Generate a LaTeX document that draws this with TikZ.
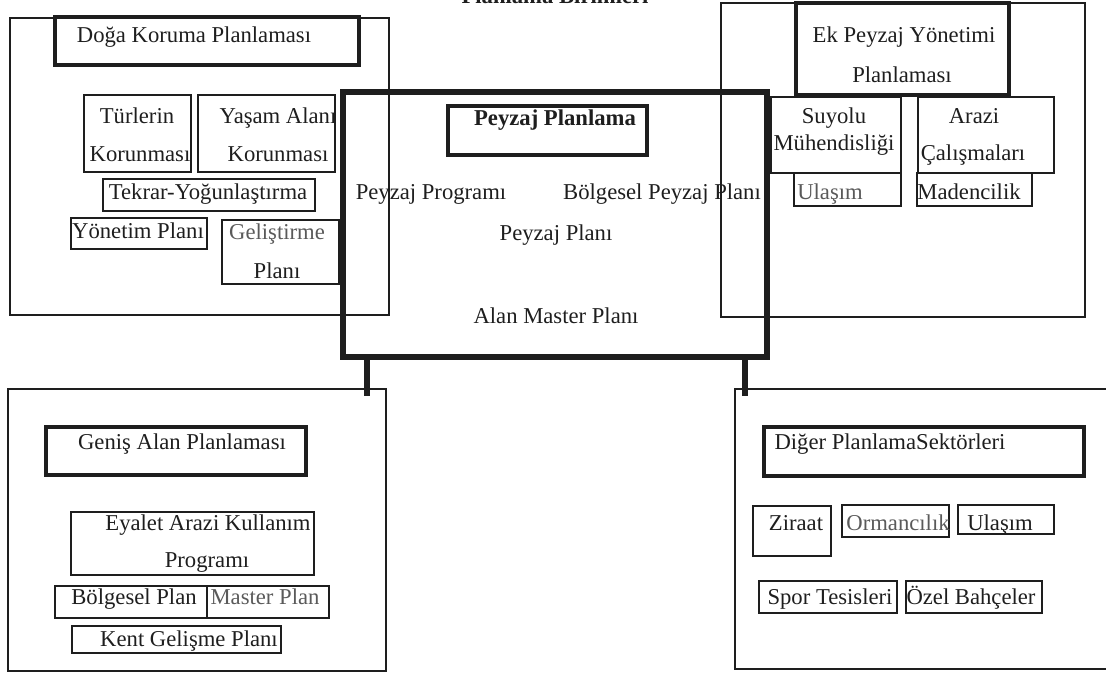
\documentclass[tikz,border=0pt]{standalone}
\usepackage{fontspec}
\setmainfont{Liberation Serif}
\usetikzlibrary{fit}
\definecolor{ink}{RGB}{30,30,30}
\definecolor{faded}{RGB}{90,90,90}
\begin{document}
\begin{tikzpicture}[x=0.75pt,y=-0.75pt,
  thinbox/.style={draw=ink, line width=0.9pt, inner sep=0pt},
  subbox/.style={draw=ink, line width=1.4pt, inner sep=0pt},
  titlebox/.style={draw=ink, line width=3pt, inner sep=0pt},
  heavybox/.style={draw=ink, line width=4.5pt, inner sep=0pt},
  stub/.style={draw=ink, line width=4.5pt},
  lbl/.style={font=\fontsize{17}{20}\selectfont, inner sep=0pt, anchor=base, text=ink},
  blbl/.style={lbl, font=\fontsize{17}{20}\selectfont\bfseries},
  flbl/.style={lbl, text=faded}]
\useasboundingbox (0,0) rectangle (1106,672);
\clip (0,0) rectangle (1106,672);

% top title (cut off at the top edge)
\node[blbl] (title) at (555,3) {Planlama Birimleri};

% ---------- Doga Koruma Planlamasi ----------
\node[thinbox, fit={(10,18) (389,315)}] (dk) {};
\node[titlebox, fit={(55,17) (359,65)}] (dkT) {};
\node[subbox, fit={(84,95) (191,172)}] (tur) {};
\node[subbox, fit={(198,95) (335,172)}] (yas) {};
\node[subbox, fit={(103,179) (315,211)}] (tek) {};
\node[subbox, fit={(71,218) (207,249)}] (yon) {};
\node[subbox, fit={(222,220) (339,284)}] (gel) {};
\node[lbl] (tDK) at (194,42) {Doğa Koruma Planlaması};
\node[lbl] (tTur1) at (137,123) {Türlerin};
\node[lbl] (tTur2) at (140,161) {Korunması};
\node[lbl] (tYas1) at (278,123) {Yaşam Alanı};
\node[lbl] (tYas2) at (278,161) {Korunması};
\node[lbl] (tTek) at (208,199) {Tekrar-Yoğunlaştırma};
\node[lbl] (tYon) at (138,238) {Yönetim Planı};
\node[flbl] (tGel1) at (277,239) {Geliştirme};
\node[lbl] (tGel2) at (277,278) {Planı};

% ---------- Ek Peyzaj Yonetimi Planlamasi ----------
\node[thinbox, fit={(721,3) (1085,317)}] (ek) {};
\node[titlebox, fit={(796,3) (1009,95)}] (ekT) {};
\node[subbox, fit={(771,97) (901,173)}] (suy) {};
\node[subbox, fit={(918,97) (1054,173)}] (arz) {};
\node[subbox, fit={(794,173) (901,206)}] (ula) {};
\node[subbox, fit={(917,173) (1032,206)}] (mad) {};
\node[lbl] (tEk1) at (904,42) {Ek Peyzaj Yönetimi};
\node[lbl] (tEk2) at (902,82) {Planlaması};
\node[lbl] (tSuy1) at (834,123) {Suyolu};
\node[lbl] (tSuy2) at (834,150) {Mühendisliği};
\node[lbl] (tArz1) at (974,123) {Arazi};
\node[lbl] (tArz2) at (973,160) {Çalışmaları};
\node[flbl] (tUla) at (830,199) {Ulaşım};
\node[lbl] (tMad) at (969,199) {Madencilik};

% ---------- Peyzaj Planlama (centre) ----------
\node[heavybox, fit={(343,92) (767,357)}] (cbox) {};
\node[titlebox, fit={(448,106) (647,155)}] (ppl) {};
\node[blbl] (tPpl) at (555,125) {Peyzaj Planlama};
\node[lbl] (tProg) at (431,199) {Peyzaj Programı};
\node[lbl] (tBpp) at (662,199) {Bölgesel Peyzaj Planı};
\node[lbl] (tPp) at (556,240) {Peyzaj Planı};
\node[lbl] (tAmp) at (556,323) {Alan Master Planı};

% ---------- Genis Alan Planlamasi ----------
\node[thinbox, fit={(8,389) (386,671)}] (gn) {};
\node[titlebox, fit={(46,427) (306,475)}] (gnT) {};
\node[subbox, fit={(71,512) (314,575)}] (eya) {};
\node[subbox, fit={(55,586) (207,618)}] (bol) {};
\node[subbox, fit={(207,586) (329,618)}] (mas) {};
\node[subbox, fit={(72,626) (281,653)}] (ken) {};
\node[lbl] (tGn) at (182,449) {Geniş Alan Planlaması};
\node[lbl] (tEya1) at (208,530) {Eyalet Arazi Kullanım};
\node[lbl] (tEya2) at (207,567) {Programı};
\node[lbl] (tBol) at (134,604) {Bölgesel Plan};
\node[flbl] (tMas) at (265,604) {Master Plan};
\node[lbl] (tKen) at (189,646) {Kent Gelişme Planı};

% ---------- Diger Planlama Sektorleri ----------
\node[thinbox, fit={(735,389) (1112,669)}] (dg) {};
\node[titlebox, fit={(764,427) (1084,476)}] (dgT) {};
\node[subbox, fit={(753,506) (831,556)}] (zir) {};
\node[subbox, fit={(842,505) (949,537)}] (orm) {};
\node[subbox, fit={(958,505) (1054,534)}] (ulb) {};
\node[subbox, fit={(759,581) (897,613)}] (spo) {};
\node[subbox, fit={(906,581) (1042,613)}] (oze) {};
\node[lbl] (tDg) at (890,449) {Diğer PlanlamaSektörleri};
\node[lbl] (tZir) at (796,530) {Ziraat};
\node[flbl] (tOrm) at (898,530) {Ormancılık};
\node[lbl] (tUlb) at (1000,530) {Ulaşım};
\node[lbl] (tSpo) at (830,604) {Spor Tesisleri};
\node[lbl] (tOze) at (971,604) {Özel Bahçeler};

% ---------- connectors ----------
\coordinate (sL) at (367,0);
\coordinate (sR) at (745,0);
\draw[stub] (cbox.south -| sL) -- (gn.north -| sL) -- ++(0,8);
\draw[stub] (cbox.south -| sR) -- (dg.north -| sR) -- ++(0,8);
\end{tikzpicture}
\end{document}
